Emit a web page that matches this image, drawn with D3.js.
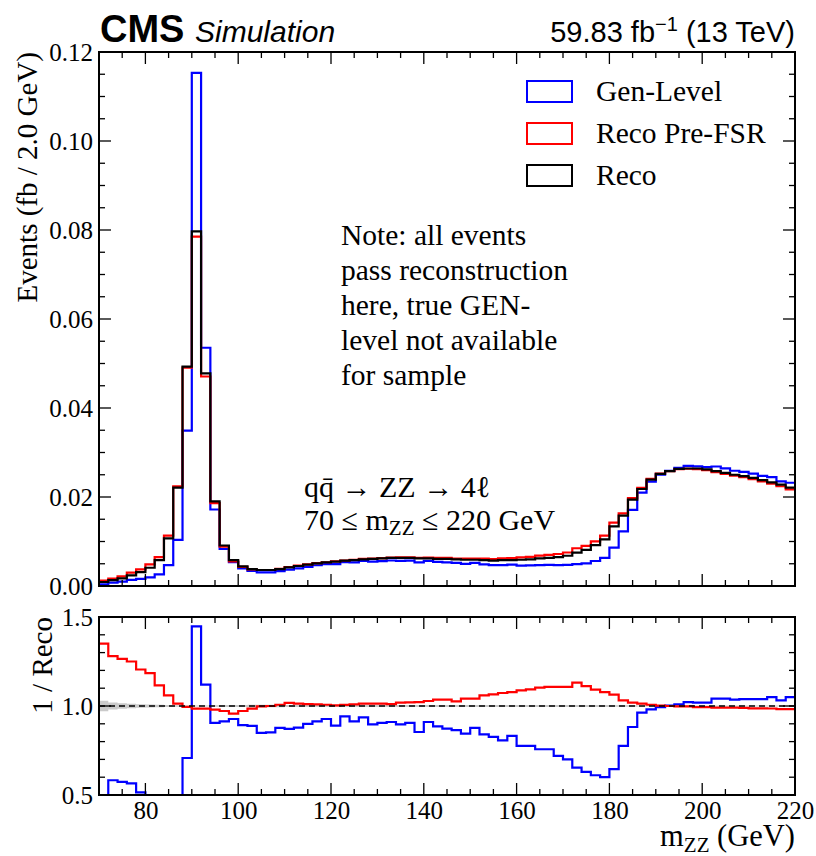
<!DOCTYPE html>
<html>
<head>
<meta charset="utf-8">
<script src="https://cdn.jsdelivr.net/npm/d3@7"></script>
<style>
  body { margin: 0; background: #fff; }
  svg { display: block; }
</style>
</head>
<body>
<div id="chart"></div>
<script>
// bins: 70 -> 220 GeV, 2 GeV wide
var binEdges = d3.range(70, 222, 2);

// Reco histogram (fb / 2 GeV), one value per bin
var recoVals = [
  0.0009, 0.0013, 0.0017, 0.0024, 0.0031, 0.0041, 0.0058, 0.0107, 0.0221, 0.0493,
  0.0797, 0.0478, 0.0190, 0.0091, 0.0058, 0.0044, 0.0038, 0.0036, 0.0036, 0.0038,
  0.0042, 0.0045, 0.0048, 0.0051, 0.0053, 0.0055, 0.0057, 0.0058, 0.0060, 0.0061,
  0.0062, 0.0063, 0.0063, 0.0063, 0.0062, 0.0062, 0.0061, 0.0061, 0.0060, 0.0059,
  0.0059, 0.0058, 0.0057, 0.0058, 0.0058, 0.0059, 0.0060, 0.0062, 0.0063, 0.0065,
  0.0068, 0.0075, 0.0081, 0.0092, 0.0105, 0.0134, 0.0158, 0.0194, 0.0218, 0.0239,
  0.0252, 0.0258, 0.0263, 0.0264, 0.0264, 0.0262, 0.0258, 0.0254, 0.0250, 0.0247,
  0.0243, 0.0238, 0.0233, 0.0228, 0.0221
];

// Gen-Level / Reco
var genRatio = [
  0.420, 0.583, 0.574, 0.565, 0.515, 0.470, 0.450, 0.440, 0.470, 0.708,
  1.447, 1.120, 0.905, 0.914, 0.927, 0.893, 0.888, 0.849, 0.852, 0.877,
  0.871, 0.879, 0.900, 0.914, 0.927, 0.890, 0.942, 0.914, 0.936, 0.897,
  0.905, 0.910, 0.897, 0.905, 0.854, 0.910, 0.886, 0.873, 0.864, 0.845,
  0.877, 0.841, 0.826, 0.807, 0.832, 0.776, 0.776, 0.757, 0.757, 0.720,
  0.700, 0.654, 0.630, 0.611, 0.600, 0.645, 0.776, 0.882, 0.963, 0.981,
  0.994, 1.002, 1.009, 1.022, 1.019, 1.019, 1.041, 1.041, 1.036, 1.039,
  1.039, 1.039, 1.050, 1.032, 1.050
];

// Reco Pre-FSR / Reco
var preFsrRatio = [
  1.350, 1.280, 1.265, 1.250, 1.205, 1.185, 1.116, 1.060, 1.013, 0.995,
  0.985, 0.985, 0.980, 0.972, 0.957, 0.972, 0.985, 0.998, 1.000, 1.007,
  1.017, 1.013, 1.011, 1.009, 1.007, 1.004, 1.006, 1.009, 1.013, 1.013,
  1.013, 1.011, 1.019, 1.020, 1.022, 1.028, 1.036, 1.036, 1.026, 1.041,
  1.041, 1.060, 1.065, 1.073, 1.078, 1.088, 1.093, 1.103, 1.107, 1.107,
  1.107, 1.131, 1.112, 1.092, 1.078, 1.064, 1.032, 1.019, 1.013, 1.007,
  1.002, 1.000, 0.998, 0.998, 0.994, 0.994, 0.991, 0.991, 0.991, 0.990,
  0.987, 0.987, 0.986, 0.983, 0.983
];

// relative stat. uncertainty of Reco (grey band)
var recoUnc = [
  0.030, 0.020, 0.015, 0.012, 0.010, 0.008, 0.007, 0.005, 0.004, 0.003,
  0.003, 0.003, 0.004, 0.005, 0.006, 0.006, 0.007, 0.007, 0.007, 0.007,
  0.006, 0.006, 0.006, 0.006, 0.006, 0.006, 0.006, 0.006, 0.006, 0.006,
  0.006, 0.006, 0.006, 0.006, 0.006, 0.006, 0.006, 0.006, 0.006, 0.006,
  0.006, 0.006, 0.006, 0.006, 0.006, 0.006, 0.006, 0.006, 0.006, 0.006,
  0.006, 0.005, 0.005, 0.005, 0.005, 0.004, 0.004, 0.004, 0.003, 0.003,
  0.003, 0.003, 0.003, 0.003, 0.003, 0.003, 0.003, 0.003, 0.003, 0.003,
  0.003, 0.003, 0.003, 0.003, 0.003
];

var xMajor = [80, 100, 120, 140, 160, 180, 200, 220];
var yTopMajor = [0, 0.02, 0.04, 0.06, 0.08, 0.10, 0.12];
var yRatioMajor = [0.5, 1.0, 1.5];

var legendNames = ["Gen-Level", "Reco Pre-FSR", "Reco"];
var legendColors = ["#0000ff", "#ff0000", "#000000"];

var noteLines = ["Note: all events", "pass reconstruction", "here, true GEN-",
                 "level not available", "for sample"];

var SERIF = "'Liberation Serif', 'Times New Roman', Times, serif";
var SANS = "'Liberation Sans', Arial, Helvetica, sans-serif";

var width = 816, height = 856
  , left = 99, right = 795
  , topY0 = 52, topY1 = 586
  , ratY0 = 617, ratY1 = 795;

var svg = d3.select("#chart").append("svg")
    .attr("width", width)
    .attr("height", height);

var x = d3.scaleLinear().domain([70, 220]).range([left, right]);
var yTop = d3.scaleLinear().domain([0, 0.12]).range([topY1, topY0]);
var yRat = d3.scaleLinear().domain([0.5, 1.5]).range([ratY1, ratY0]);

// tables built from the arrays
var genVals = recoVals.map(function(v, i) { return v * genRatio[i]; });
var preVals = recoVals.map(function(v, i) { return v * preFsrRatio[i]; });

function stepPts(vals) {
  var pts = vals.map(function(v, i) { return [binEdges[i], v]; });
  pts.push([binEdges[vals.length], vals[vals.length - 1]]);
  return pts;
}

function stepLine(yScale) {
  return d3.line()
    .x(function(d) { return x(d[0]); })
    .y(function(d) { return yScale(d[1]); })
    .curve(d3.curveStepAfter);
}

svg.append("clipPath").attr("id", "clipTop")
  .append("rect").attr("x", left).attr("y", topY0)
  .attr("width", right - left).attr("height", topY1 - topY0);
svg.append("clipPath").attr("id", "clipRat")
  .append("rect").attr("x", left).attr("y", ratY0)
  .attr("width", right - left).attr("height", ratY1 - ratY0);

// ---- top panel histograms
var gTop = svg.append("g").attr("clip-path", "url(#clipTop)");
[[genVals, legendColors[0]], [preVals, legendColors[1]], [recoVals, legendColors[2]]]
  .forEach(function(s) {
    gTop.append("path")
      .attr("d", stepLine(yTop)(stepPts(s[0])))
      .attr("fill", "none")
      .attr("stroke", s[1])
      .attr("stroke-width", 2.2);
  });

// ---- ratio panel
var gRat = svg.append("g").attr("clip-path", "url(#clipRat)");
gRat.append("path")
  .attr("d", d3.area()
      .x(function(d) { return x(d[0]); })
      .y0(function(d) { return yRat(1 - d[1]); })
      .y1(function(d) { return yRat(1 + d[1]); })
      .curve(d3.curveStepAfter)(stepPts(recoUnc)))
  .attr("fill", "#b4b4b4")
  .attr("opacity", 0.7);

[[genRatio, legendColors[0]], [preFsrRatio, legendColors[1]]].forEach(function(s) {
  gRat.append("path")
    .attr("d", stepLine(yRat)(stepPts(s[0])))
    .attr("fill", "none")
    .attr("stroke", s[1])
    .attr("stroke-width", 2.2);
});

gRat.append("line")
  .attr("x1", left).attr("x2", right)
  .attr("y1", yRat(1)).attr("y2", yRat(1))
  .attr("stroke", "#000").attr("stroke-width", 1.4)
  .attr("stroke-dasharray", "6,4");

// ---- axes (ticks inside on all four sides)
function drawTicks(vals, scale, orient, pos, len) {
  vals.forEach(function(v) {
    var p = scale(v);
    var l = svg.append("line").attr("stroke", "#000").attr("stroke-width", 1.3);
    if (orient === "bottom") l.attr("x1", p).attr("x2", p).attr("y1", pos).attr("y2", pos - len);
    if (orient === "top")    l.attr("x1", p).attr("x2", p).attr("y1", pos).attr("y2", pos + len);
    if (orient === "left")   l.attr("y1", p).attr("y2", p).attr("x1", pos).attr("x2", pos + len);
    if (orient === "right")  l.attr("y1", p).attr("y2", p).attr("x1", pos).attr("x2", pos - len);
  });
}

var xMinor = d3.range(75, 220, 5).filter(function(v) { return v % 20 !== 0; });
var yTopMinor = d3.range(0.005, 0.12, 0.005).filter(function(v) {
  return Math.abs(v / 0.02 - Math.round(v / 0.02)) > 1e-6; });
var yRatMinor = [0.6, 0.7, 0.8, 0.9, 1.1, 1.2, 1.3, 1.4];

[[topY0, topY1, yTop, yTopMajor, yTopMinor], [ratY0, ratY1, yRat, yRatioMajor, yRatMinor]]
  .forEach(function(p) {
    drawTicks(xMajor, x, "bottom", p[1], 12);
    drawTicks(xMinor, x, "bottom", p[1], 6);
    drawTicks(xMajor, x, "top", p[0], 12);
    drawTicks(xMinor, x, "top", p[0], 6);
    drawTicks(p[3], p[2], "left", left, 12);
    drawTicks(p[4], p[2], "left", left, 6);
    drawTicks(p[3], p[2], "right", right, 12);
    drawTicks(p[4], p[2], "right", right, 6);
    svg.append("rect")
      .attr("x", left).attr("y", p[0])
      .attr("width", right - left).attr("height", p[1] - p[0])
      .attr("fill", "none").attr("stroke", "#000").attr("stroke-width", 2);
  });

// tick labels
function styleAxis(g) {
  g.select(".domain").remove();
  g.attr("font-family", SERIF).attr("font-size", 25);
  g.selectAll("text").attr("fill", "#000");
}

svg.append("g").attr("transform", "translate(" + left + ",0)")
  .call(d3.axisLeft(yTop).tickValues(yTopMajor).tickSize(0).tickPadding(6)
        .tickFormat(d3.format(".2f")))
  .call(styleAxis);

svg.append("g").attr("transform", "translate(" + left + ",0)")
  .call(d3.axisLeft(yRat).tickValues(yRatioMajor).tickSize(0).tickPadding(6)
        .tickFormat(d3.format(".1f")))
  .call(styleAxis);

svg.append("g").attr("transform", "translate(0," + ratY1 + ")")
  .call(d3.axisBottom(x).tickValues(xMajor).tickSize(0).tickPadding(6)
        .tickFormat(d3.format("d")))
  .call(styleAxis);

// axis titles
svg.append("text")
  .attr("font-family", SERIF)
  .attr("transform", "translate(37," + topY0 + ") rotate(-90)")
  .attr("text-anchor", "end").attr("font-size", 29)
  .text("Events (fb / 2.0 GeV)");

svg.append("text")
  .attr("font-family", SERIF)
  .attr("transform", "translate(52," + ratY0 + ") rotate(-90)")
  .attr("text-anchor", "end").attr("font-size", 29)
  .text("1 / Reco");

var xl = svg.append("text")
  .attr("font-family", SERIF)
  .attr("x", right).attr("y", 846)
  .attr("text-anchor", "end").attr("font-size", 30.5);
xl.append("tspan").text("m");
xl.append("tspan").attr("font-size", 21).attr("dy", 6).text("ZZ");
xl.append("tspan").attr("dy", -6).text(" (GeV)");

// header
svg.append("text")
  .attr("font-family", SANS)
  .attr("x", 100).attr("y", 42)
  .attr("font-size", 38).attr("font-weight", "bold")
  .text("CMS");
svg.append("text")
  .attr("font-family", SANS)
  .attr("x", 195).attr("y", 42)
  .attr("font-size", 30).attr("font-style", "italic")
  .text("Simulation");
var lumi = svg.append("text")
  .attr("font-family", SANS)
  .attr("x", right).attr("y", 42)
  .attr("text-anchor", "end").attr("font-size", 29);
lumi.append("tspan").text("59.83 fb");
lumi.append("tspan").attr("font-size", 20).attr("dy", -11).text("\u22121");
lumi.append("tspan").attr("dy", 11).text(" (13 TeV)");

// legend
legendNames.forEach(function(name, i) {
  var yy = 81 + i * 42;
  svg.append("rect")
    .attr("x", 527).attr("y", yy)
    .attr("width", 45).attr("height", 21)
    .attr("fill", "none")
    .attr("stroke", legendColors[i])
    .attr("stroke-width", 2);
  svg.append("text")
    .attr("font-family", SERIF)
    .attr("x", 596).attr("y", yy + 20)
    .attr("font-size", 29.5)
    .text(name);
});

// note
noteLines.forEach(function(t, i) {
  svg.append("text")
    .attr("font-family", SERIF)
    .attr("x", 341).attr("y", 245 + i * 35)
    .attr("font-size", 29.5)
    .text(t);
});

// process label
svg.append("text")
  .attr("font-family", SERIF)
  .attr("x", 304).attr("y", 497)
  .attr("font-size", 30)
  .text("qq\u0304 \u2192 ZZ \u2192 4\u2113");
var pl = svg.append("text")
  .attr("font-family", SERIF)
  .attr("x", 304).attr("y", 530)
  .attr("font-size", 30);
pl.append("tspan").text("70 \u2264 m");
pl.append("tspan").attr("font-size", 21).attr("dy", 5).text("ZZ");
pl.append("tspan").attr("dy", -5).text(" \u2264 220 GeV");
</script>
</body>
</html>
